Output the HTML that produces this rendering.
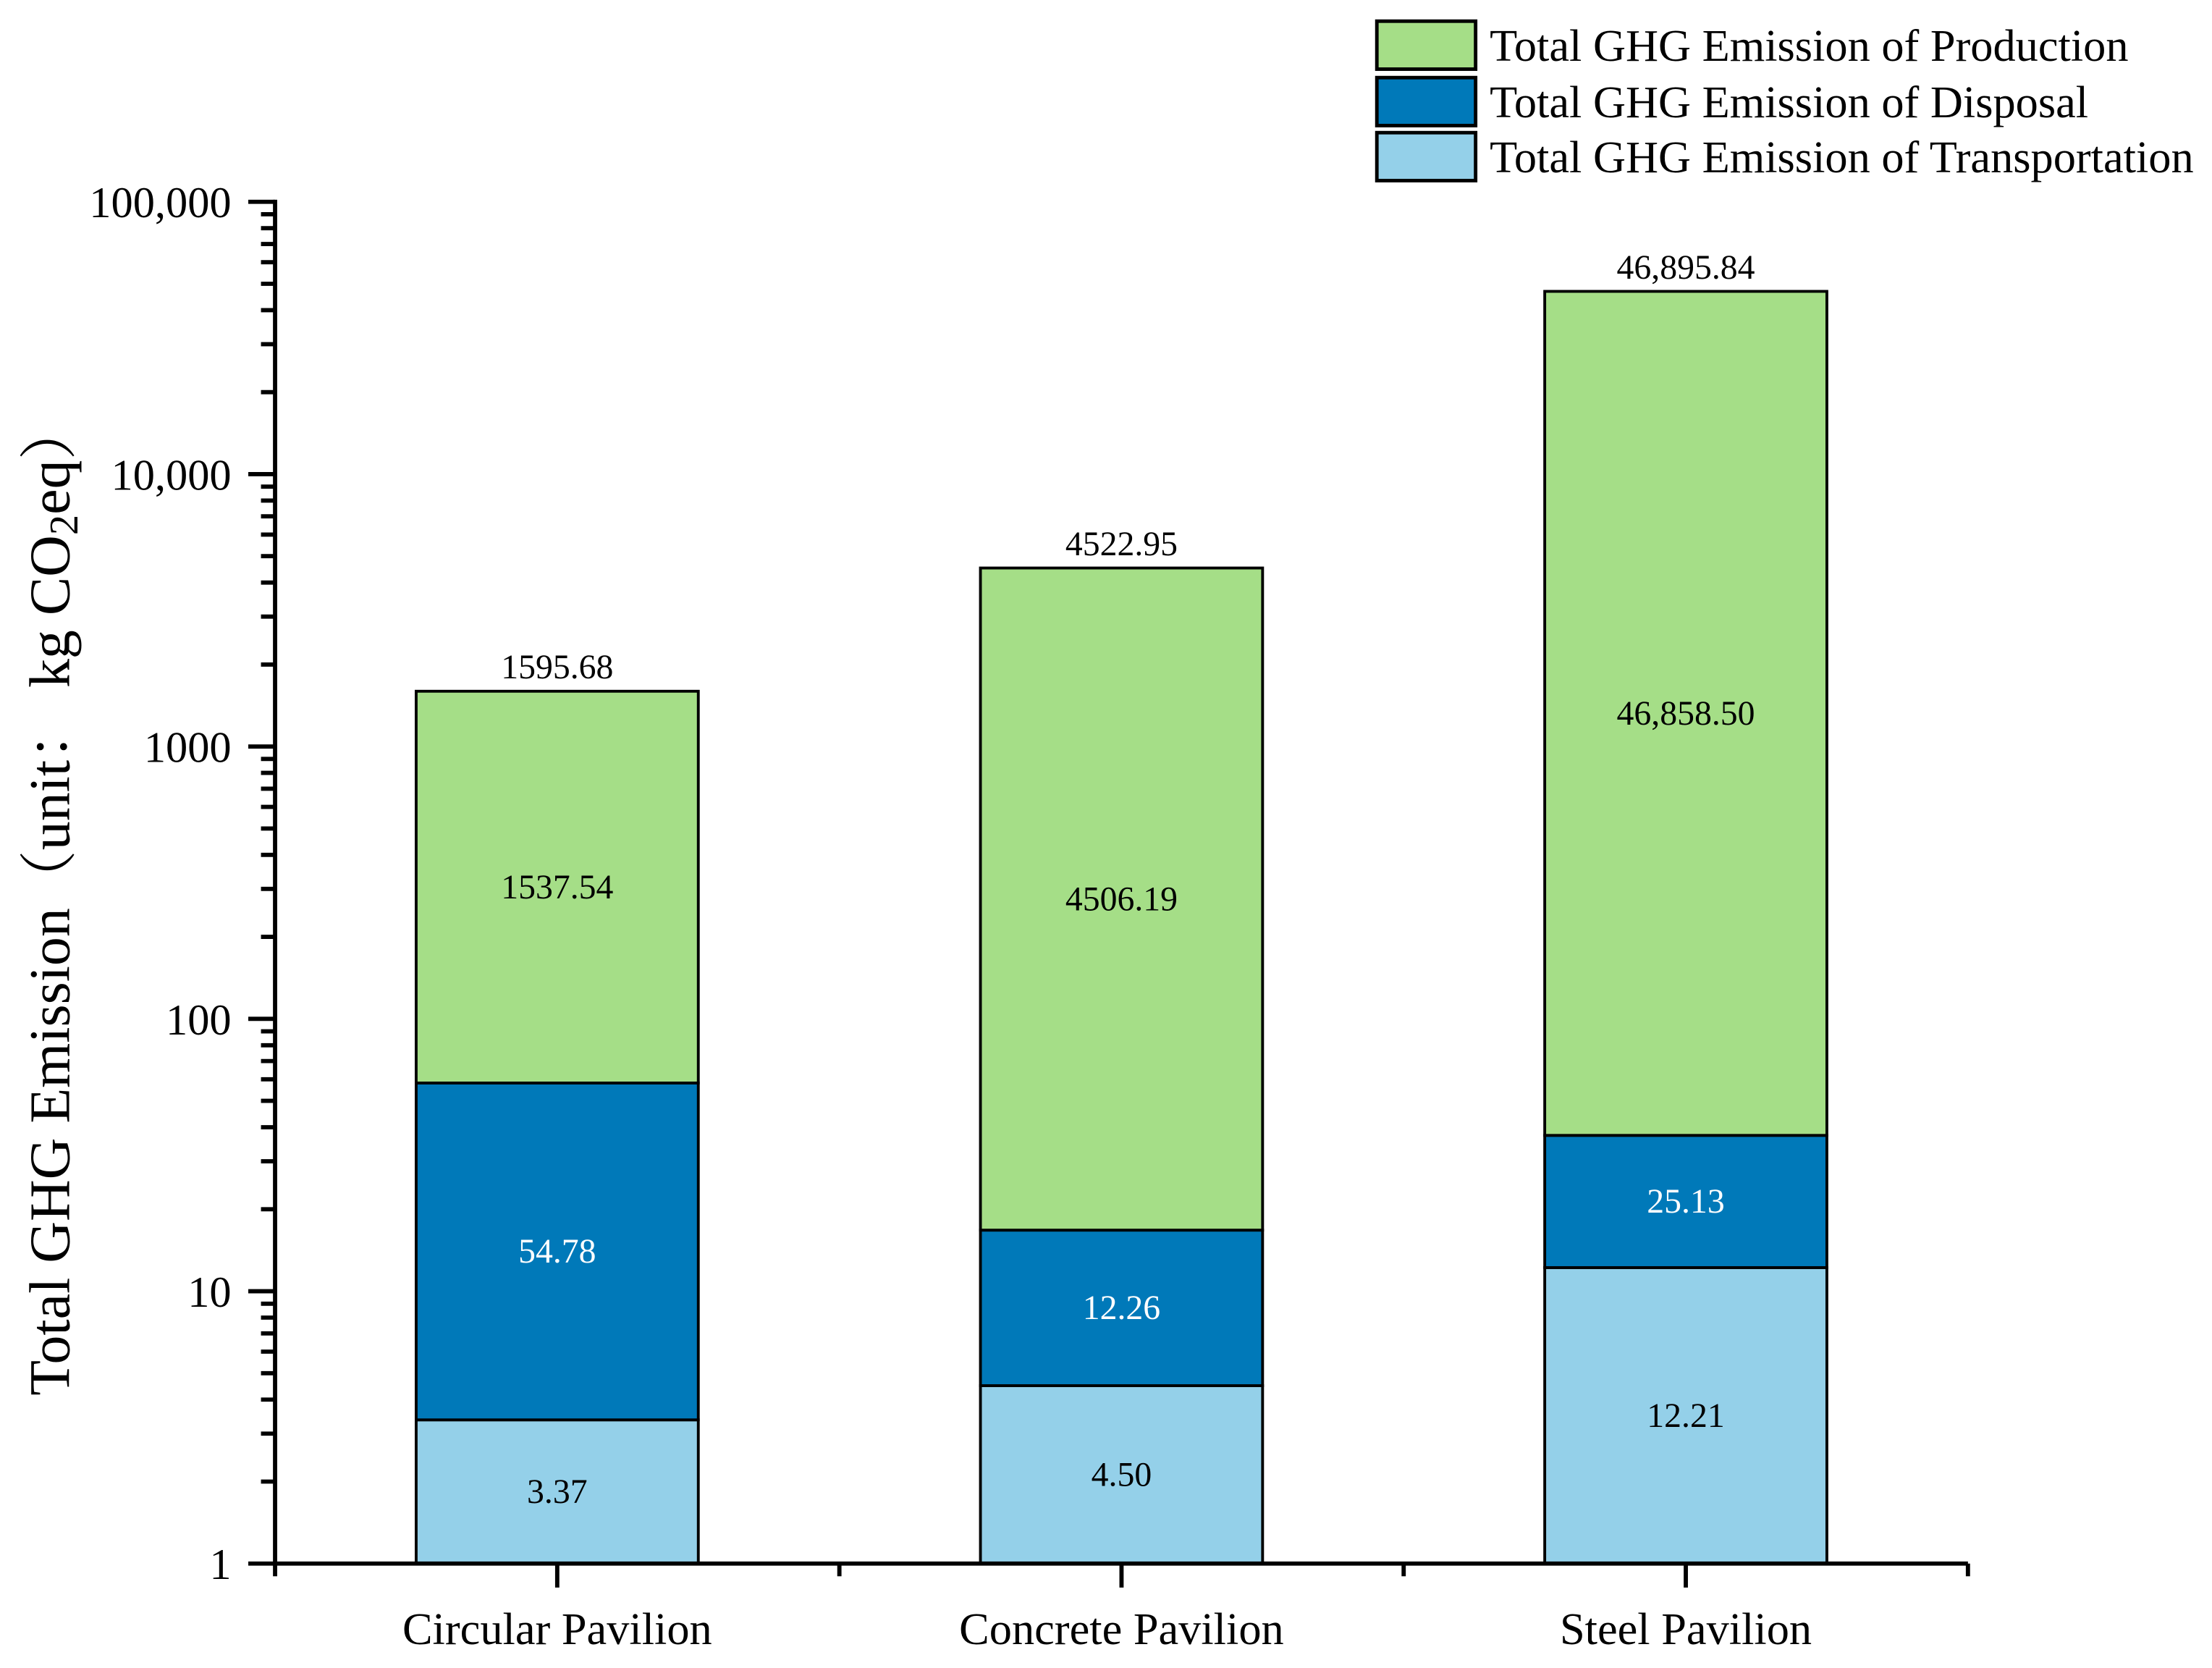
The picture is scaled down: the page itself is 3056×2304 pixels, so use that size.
<!DOCTYPE html>
<html><head><meta charset="utf-8"><style>
html,body{margin:0;padding:0;background:#fff}
svg{display:block;font-family:"Liberation Serif","Noto Serif CJK SC",serif}
</style></head><body>
<svg id="chart" width="3056" height="2304" viewBox="0 0 1568 1182" preserveAspectRatio="none" xmlns="http://www.w3.org/2000/svg">
<rect width="1568" height="1182" fill="#fff"/>
<g id="legend">
 <g><rect x="976" y="15" width="70" height="34" fill="#a5de87" stroke="#000" stroke-width="2.5"/><text x="1056" y="43" font-size="32">Total GHG Emission of Production</text></g>
 <g><rect x="976" y="55" width="70" height="34" fill="#0079b9" stroke="#000" stroke-width="2.5"/><text x="1056" y="83" font-size="32">Total GHG Emission of Disposal</text></g>
 <g><rect x="976" y="94" width="70" height="34" fill="#94d0e9" stroke="#000" stroke-width="2.5"/><text x="1056" y="122" font-size="32">Total GHG Emission of Transportation</text></g>
</g>
<text transform="translate(49,637) rotate(-90)" text-anchor="middle" font-size="41">Total GHG Emission（unit： kg CO<tspan font-size="29" dy="6">2</tspan><tspan dy="-6">eq）</tspan></text>
<g id="bars"></g>
<g id="axes"></g>
</svg>
<script>
const categories = ["Circular Pavilion", "Concrete Pavilion", "Steel Pavilion"];
const transport = [3.37, 4.50, 12.21];
const disposal = [54.78, 12.26, 25.13];
const production = [1537.54, 4506.19, 46858.50];
const totals = ["1595.68", "4522.95", "46,895.84"];
const prodLabels = ["1537.54", "4506.19", "46,858.50"];
const dispLabels = ["54.78", "12.26", "25.13"];
const transLabels = ["3.37", "4.50", "12.21"];
const yTicks = [1, 10, 100, 1000, 10000, 100000];
const yTickLabels = ["1", "10", "100", "1000", "10,000", "100,000"];

const NS = "http://www.w3.org/2000/svg";
const x0 = 195, x1 = 1395, yBottom = 1108, decade = 193;
function yScale(v){ return yBottom - Math.log10(v) * decade; }
function xCenter(i){ return x0 + 200 + i * 400; }
const barW = 200;
function mk(tag, attrs, parent){ const e = document.createElementNS(NS, tag); for (const k in attrs) e.setAttribute(k, attrs[k]); parent.appendChild(e); return e; }

const bars = document.getElementById('bars');
const axes = document.getElementById('axes');
const colors = ["#94d0e9", "#0079b9", "#a5de87"];
const series = [transport, disposal, production];
const names = ["transport", "disposal", "production"];
const labs = [transLabels, dispLabels, prodLabels];
const labColors = ["#000", "#fff", "#000"];

categories.forEach((c, i) => {
  let lowVal = 1;
  for (let s = 0; s < 3; s++) {
    const top = (s === 0 ? series[0][i] : lowVal + series[s][i]);
    const yT = yScale(top), yB = yScale(lowVal);
    const r = mk('rect', {x: xCenter(i) - barW/2, y: yT, width: barW, height: yB - yT, fill: colors[s], stroke: "#000", "stroke-width": 2}, bars);
    
    
    const t = mk('text', {x: xCenter(i), y: (yT + yB)/2 + 8, "text-anchor": "middle", "font-size": 24.5, fill: labColors[s]}, bars);
    t.textContent = labs[s][i];
    
    
    lowVal = top;
  }
  const tt = mk('text', {x: xCenter(i), y: yScale(lowVal) - 9, "text-anchor": "middle", "font-size": 24.5}, bars);
  tt.textContent = totals[i];
  
  
  const cl = mk('text', {x: xCenter(i), y: 1165, "text-anchor": "middle", "font-size": 32}, axes);
  cl.textContent = c;
  
  
  const tk = mk('line', {x1: xCenter(i), x2: xCenter(i), y1: yBottom, y2: yBottom + 17, stroke: "#000", "stroke-width": 3}, axes);
  
  
});
for (let j = 0; j <= categories.length; j++) {
  const mx = x0 + j * 400;
  const m = mk('line', {x1: mx, x2: mx, y1: yBottom, y2: yBottom + 9, stroke: "#000", "stroke-width": 3}, axes);
  
  
}
yTicks.forEach((v, k) => {
  const y = yScale(v);
  const l = mk('line', {x1: 176, x2: x0, y1: y, y2: y, stroke: "#000", "stroke-width": 3}, axes);
  
  
  const t = mk('text', {x: 164, y: y + 11, "text-anchor": "end", "font-size": 31}, axes);
  t.textContent = yTickLabels[k];
  
  
  if (k < yTicks.length - 1) {
    for (let m = 2; m <= 9; m++) {
      const ym = yScale(v * m);
      const ml = mk('line', {x1: 185, x2: x0, y1: ym, y2: ym, stroke: "#000", "stroke-width": 3}, axes);
      
      
    }
  }
});
const ya = mk('line', {x1: x0, x2: x0, y1: yScale(100000) - 1.5, y2: yBottom + 1.5, stroke: "#000", "stroke-width": 3}, axes);


const xa = mk('line', {x1: x0 - 1.5, x2: x1, y1: yBottom, y2: yBottom, stroke: "#000", "stroke-width": 3}, axes);


</script>
</body></html>
